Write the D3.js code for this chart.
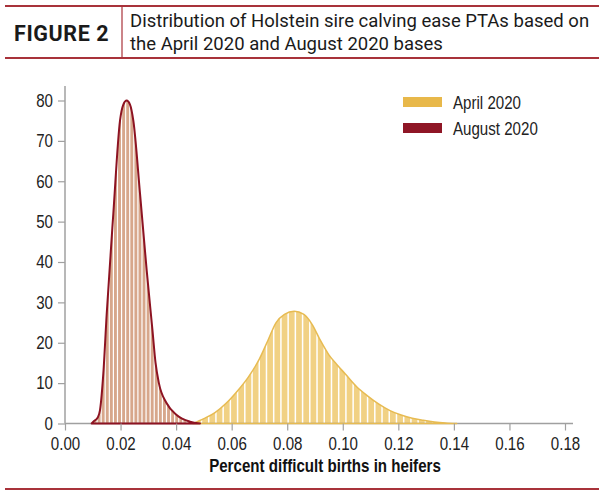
<!DOCTYPE html>
<html><head><meta charset="utf-8">
<script src="https://cdn.jsdelivr.net/npm/d3@7"></script>
<style>
body{margin:0;background:#fff;}
svg{display:block;}
</style></head>
<body>
<svg id="chart" width="610" height="496"></svg>
<script>
// ---------- data ----------
const figureLabel = "FIGURE 2";
const titleLines = ["Distribution of Holstein sire calving ease PTAs based on", "the April 2020 and August 2020 bases"];
const xTitle = "Percent difficult births in heifers";
const xTicks = [0, 0.02, 0.04, 0.06, 0.08, 0.10, 0.12, 0.14, 0.16, 0.18];
const yTicks = [0, 10, 20, 30, 40, 50, 60, 70, 80];
const seriesNames = ["April 2020", "August 2020"];

// density curve points: [x, frequency]
const aprilX = [0.046, 0.050, 0.054, 0.058, 0.062, 0.066, 0.070, 0.073, 0.076, 0.079, 0.0825, 0.086, 0.089, 0.092, 0.095, 0.098, 0.101, 0.105, 0.109, 0.113, 0.117, 0.121, 0.125, 0.129, 0.133, 0.137, 0.141];
const aprilY = [0, 1.2, 2.7, 5, 8, 11.5, 16, 20.5, 25, 27, 27.8, 27, 24.5, 20.5, 17, 14.5, 12.2, 9.1, 6.8, 4.8, 3.2, 2.1, 1.3, 0.8, 0.4, 0.15, 0];
const augustX = [0.0096, 0.0102, 0.0118, 0.0126, 0.0138, 0.015, 0.0174, 0.0198, 0.021, 0.0222, 0.0234, 0.0246, 0.027, 0.0294, 0.0315, 0.0326, 0.0338, 0.0366, 0.0402, 0.045, 0.0486];
const augustY = [0, 0.45, 1.5, 3.3, 12.4, 27, 52, 75, 79, 80, 79, 75, 57, 38, 23, 15, 10, 5, 2.1, 0.45, 0];
// histogram bin width (hatched bars under each curve)
const aprilBin = 0.0026, augustBin = 0.00147;

// ---------- layout ----------
const svg = d3.select("#chart");
const x = d3.scaleLinear().domain([0, 0.18]).range([65, 565]);
const y = d3.scaleLinear().domain([0, 80]).range([423.5, 100.5]);
const red = "#a8323a";
const narrow = "'Liberation Sans', Arial, sans-serif";
const squeeze = 0.84;

// header
svg.append("line").attr("x1", 5).attr("x2", 599).attr("y1", 6).attr("y2", 6).attr("stroke", red).attr("stroke-width", 2);
svg.append("line").attr("x1", 5).attr("x2", 599).attr("y1", 58).attr("y2", 58).attr("stroke", red).attr("stroke-width", 2);
svg.append("line").attr("x1", 122).attr("x2", 122).attr("y1", 6).attr("y2", 58).attr("stroke", red).attr("stroke-width", 1.2);
svg.append("text").attr("x", 14).attr("y", 41).text(figureLabel)
  .attr("font-family", "Roboto, sans-serif").attr("font-weight", 700).attr("font-size", 21.5).attr("letter-spacing", 0.6).attr("fill", "#1a1a1a");
titleLines.forEach((t, i) => svg.append("text").attr("x", 130).attr("y", 27 + i * 23).text(t)
  .attr("font-family", "Roboto, sans-serif").attr("font-size", 18.5).attr("fill", "#1a1a1a"));

// footer line
svg.append("line").attr("x1", 5).attr("x2", 599).attr("y1", 489).attr("y2", 489).attr("stroke", red).attr("stroke-width", 2);

// distributions
const series = [
  {name: "april", xs: aprilX, ys: aprilY, bin: aprilBin, fill: "#f1d184", stroke: "#e7bb52", sw: 1.5, gap: 1.5},
  {name: "august", xs: augustX, ys: augustY, bin: augustBin, fill: "#d7a78b", stroke: "#8d1322", sw: 2, gap: 1.2}
];
const defs = svg.append("defs");
series.forEach(s => {
  const pts = s.xs.map((v, i) => [v, s.ys[i]]);
  const area = d3.area().x(d => x(d[0])).y0(y(0)).y1(d => y(d[1])).curve(d3.curveMonotoneX);
  defs.append("clipPath").attr("id", "clip-" + s.name).append("path").attr("d", area(pts));
  const lo = d3.min(s.xs), hi = d3.max(s.xs);
  const bins = d3.range(Math.floor(lo / s.bin) * s.bin, hi + s.bin, s.bin);
  const g = svg.append("g").attr("clip-path", `url(#clip-${s.name})`);
  g.selectAll("rect").data(bins).join("rect")
    .attr("x", d => x(d))
    .attr("width", d => Math.max(0.5, x(d + s.bin) - x(d) - s.gap))
    .attr("y", y(80))
    .attr("height", y(0) - y(80))
    .attr("fill", s.fill);
  s.path = area(pts);
});

// x axis line
svg.append("line").attr("x1", 65).attr("x2", 573).attr("y1", y(0)).attr("y2", y(0)).attr("stroke", "#a0a0a0").attr("stroke-width", 1.5);

series.forEach(s => {
  svg.append("path").attr("d", s.path).attr("fill", "none").attr("stroke", s.stroke).attr("stroke-width", s.sw).attr("stroke-linejoin", "round");
});

// axes
const xAxis = svg.append("g").attr("transform", `translate(0,${y(0)})`)
  .call(d3.axisBottom(x).tickValues(xTicks).tickFormat(d3.format(".2f")).tickSize(7).tickSizeOuter(0));
xAxis.select(".domain").remove();
xAxis.selectAll("line").attr("stroke", "#a0a0a0").attr("stroke-width", 1.2);
xAxis.selectAll("text").attr("font-family", narrow).attr("font-size", 18).attr("fill", "#222")
  .attr("y", 10).attr("dy", "0.9em").attr("transform", `scale(${squeeze},1)`);

const yAxis = svg.append("g").attr("transform", `translate(65,0)`)
  .call(d3.axisLeft(y).tickValues(yTicks).tickSize(7).tickSizeOuter(0));
yAxis.select(".domain").attr("stroke", "#a0a0a0").attr("stroke-width", 1.5).attr("d", `M0,${y(0)}V86`);
yAxis.selectAll("line").attr("stroke", "#a0a0a0").attr("stroke-width", 1.2);
yAxis.selectAll("text").attr("font-family", narrow).attr("font-size", 18).attr("fill", "#222")
  .attr("x", -12 / squeeze).attr("transform", `scale(${squeeze},1)`);

svg.append("text").attr("x", 325 / squeeze).attr("y", 472).attr("text-anchor", "middle").text(xTitle)
  .attr("transform", `scale(${squeeze},1)`)
  .attr("font-family", narrow).attr("font-weight", 700).attr("font-size", 18).attr("fill", "#111");

// legend
const legColors = ["#e8b84a", "#8f1626"];
seriesNames.forEach((n, i) => {
  svg.append("rect").attr("x", 403).attr("y", 97 + i * 26).attr("width", 39).attr("height", 10).attr("fill", legColors[i]);
  svg.append("text").attr("x", 453 / squeeze).attr("y", 109 + i * 26).text(n)
    .attr("transform", `scale(${squeeze},1)`)
    .attr("font-family", narrow).attr("font-size", 18).attr("fill", "#222");
});
</script>
</body></html>
